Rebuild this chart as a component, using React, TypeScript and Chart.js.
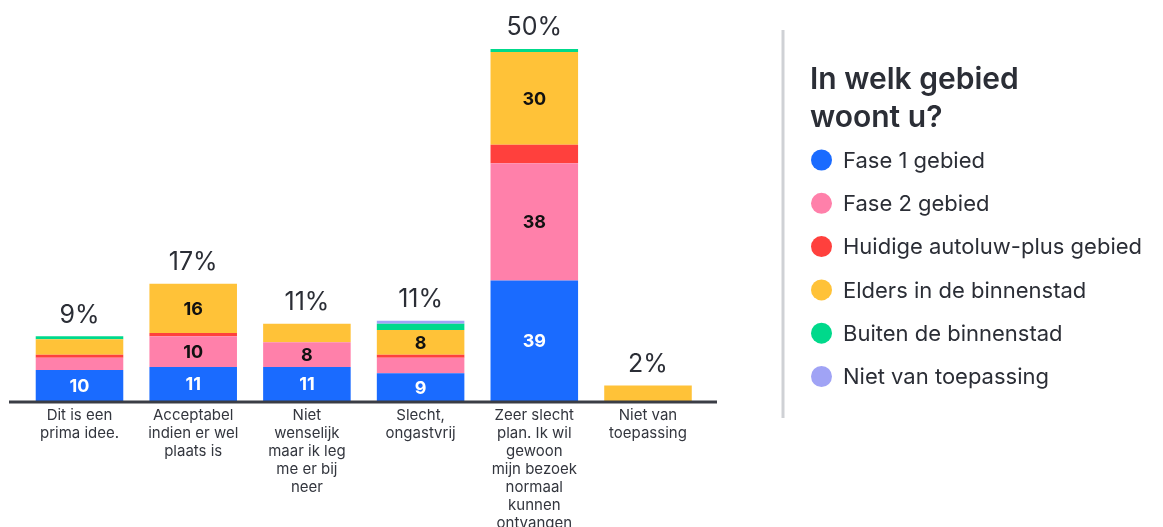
import { useEffect, useRef } from "react";
import { Chart, registerables } from "chart.js";

Chart.register(...registerables);

const categories: string[][] = [
  ["Dit is een", "prima idee."],
  ["Acceptabel", "indien er wel", "plaats is"],
  ["Niet", "wenselijk", "maar ik leg", "me er bij", "neer"],
  ["Slecht,", "ongastvrij"],
  ["Zeer slecht", "plan. Ik wil", "gewoon", "mijn bezoek", "normaal", "kunnen", "ontvangen"],
  ["Niet van", "toepassing"],
];

const fase1 = [10, 11, 11, 9, 39, 0];
const fase2 = [4, 10, 8, 5, 38, 0];
const huidige = [1, 1, 0, 1, 6, 0];
const elders = [5, 16, 6, 8, 30, 5];
const buiten = [1, 0, 0, 2, 1, 0];
const nietVan = [0, 0, 0, 1, 0, 0];

const seriesNames = [
  "Fase 1 gebied",
  "Fase 2 gebied",
  "Huidige autoluw-plus gebied",
  "Elders in de binnenstad",
  "Buiten de binnenstad",
  "Niet van toepassing",
];
const seriesValues = [fase1, fase2, huidige, elders, buiten, nietVan];
const seriesColors = ["#1a6bff", "#ff80aa", "#ff403d", "#ffc238", "#00d98b", "#a0a3f5"];
const legendTitle = ["In welk gebied", "woont u?"];
const labelThreshold = 8;

const FONT = "Inter, 'Noto Sans', sans-serif";
const TEXT = "#2b2e36";

const segmentLabels = {
  id: "segmentLabels",
  afterDatasetsDraw(chart: any) {
    const ctx = chart.ctx;
    ctx.save();
    ctx.font = `700 18px ${FONT}`;
    ctx.textAlign = "center";
    ctx.textBaseline = "middle";
    chart.data.datasets.forEach((ds: any, i: number) => {
      const meta = chart.getDatasetMeta(i);
      meta.data.forEach((bar: any, j: number) => {
        const v = ds.data[j];
        if (v < labelThreshold) return;
        const p = bar.getProps(["x", "y", "base"], true);
        ctx.fillStyle = i === 0 ? "#ffffff" : "#111111";
        ctx.fillText(String(v), p.x, (p.y + p.base) / 2 + 1);
      });
    });
    ctx.restore();
  },
};

const totalsPlugin = {
  id: "totals",
  afterDatasetsDraw(chart: any) {
    const ctx = chart.ctx;
    const n = categories.length;
    const totals = Array.from({ length: n }, (_, j) =>
      seriesValues.reduce((s, arr) => s + arr[j], 0)
    );
    const grand = totals.reduce((a, b) => a + b, 0);
    const xs = chart.scales.x;
    const ys = chart.scales.y;
    ctx.save();
    ctx.font = `400 25px ${FONT}`;
    ctx.fillStyle = TEXT;
    ctx.textAlign = "center";
    ctx.textBaseline = "middle";
    totals.forEach((t, j) => {
      const pct = Math.round((t / grand) * 100);
      ctx.fillText(`${pct}%`, xs.getPixelForValue(j), ys.getPixelForValue(t) - 21);
    });
    // baseline
    ctx.strokeStyle = "#3a3d45";
    ctx.lineWidth = 3;
    ctx.beginPath();
    ctx.moveTo(9, chart.chartArea.bottom + 1);
    ctx.lineTo(717, chart.chartArea.bottom + 1);
    ctx.stroke();
    ctx.restore();
  },
};

const legendPlugin = {
  id: "customLegend",
  afterDraw(chart: any) {
    const ctx = chart.ctx;
    ctx.save();
    ctx.strokeStyle = "#cfd1d5";
    ctx.lineWidth = 3;
    ctx.beginPath();
    ctx.moveTo(783, 30);
    ctx.lineTo(783, 418);
    ctx.stroke();

    ctx.fillStyle = TEXT;
    ctx.textAlign = "left";
    ctx.textBaseline = "middle";
    ctx.font = `600 30px ${FONT}`;
    legendTitle.forEach((line, i) => ctx.fillText(line, 810, 80 + i * 38));

    ctx.font = `400 22px ${FONT}`;
    chart.data.datasets.forEach((ds: any, i: number) => {
      const y = 160 + i * 43.3;
      ctx.fillStyle = ds.backgroundColor;
      ctx.beginPath();
      ctx.arc(821.5, y, 10.5, 0, Math.PI * 2);
      ctx.fill();
      ctx.fillStyle = TEXT;
      ctx.fillText(ds.label, 843, y + 1);
    });
    ctx.restore();
  },
};

export default function App() {
  const ref = useRef<HTMLCanvasElement | null>(null);

  useEffect(() => {
    if (!ref.current) return;
    const chart = new Chart(ref.current, {
      type: "bar",
      data: {
        labels: categories,
        datasets: seriesNames.map((name, i) => ({
          label: name,
          data: seriesValues[i],
          backgroundColor: seriesColors[i],
          borderWidth: 0,
          barPercentage: 0.77,
          categoryPercentage: 1,
        })),
      },
      options: {
        animation: false,
        responsive: false,
        layout: { padding: { left: 22.65, right: 458.15, top: 11, bottom: 0 } },
        plugins: { legend: { display: false }, tooltip: { enabled: false } },
        scales: {
          x: {
            stacked: true,
            grid: { display: false, drawTicks: false },
            border: { display: false },
            ticks: {
              autoSkip: false,
              maxRotation: 0,
              minRotation: 0,
              padding: 5,
              color: "#33363e",
              font: { family: FONT, size: 15, lineHeight: "18px" },
            },
            afterFit(scale: any) {
              scale.height = 126;
            },
          },
          y: {
            stacked: true,
            display: false,
            min: 0,
            max: 126.3,
          },
        },
      },
      plugins: [segmentLabels, totalsPlugin, legendPlugin],
    } as any);
    return () => chart.destroy();
  }, []);

  return (
    <div style={{ position: "fixed", left: 0, top: 0, width: 1163, height: 527, background: "#fff" }}>
      <canvas ref={ref} width={1163} height={527} style={{ display: "block" }} />
    </div>
  );
}
